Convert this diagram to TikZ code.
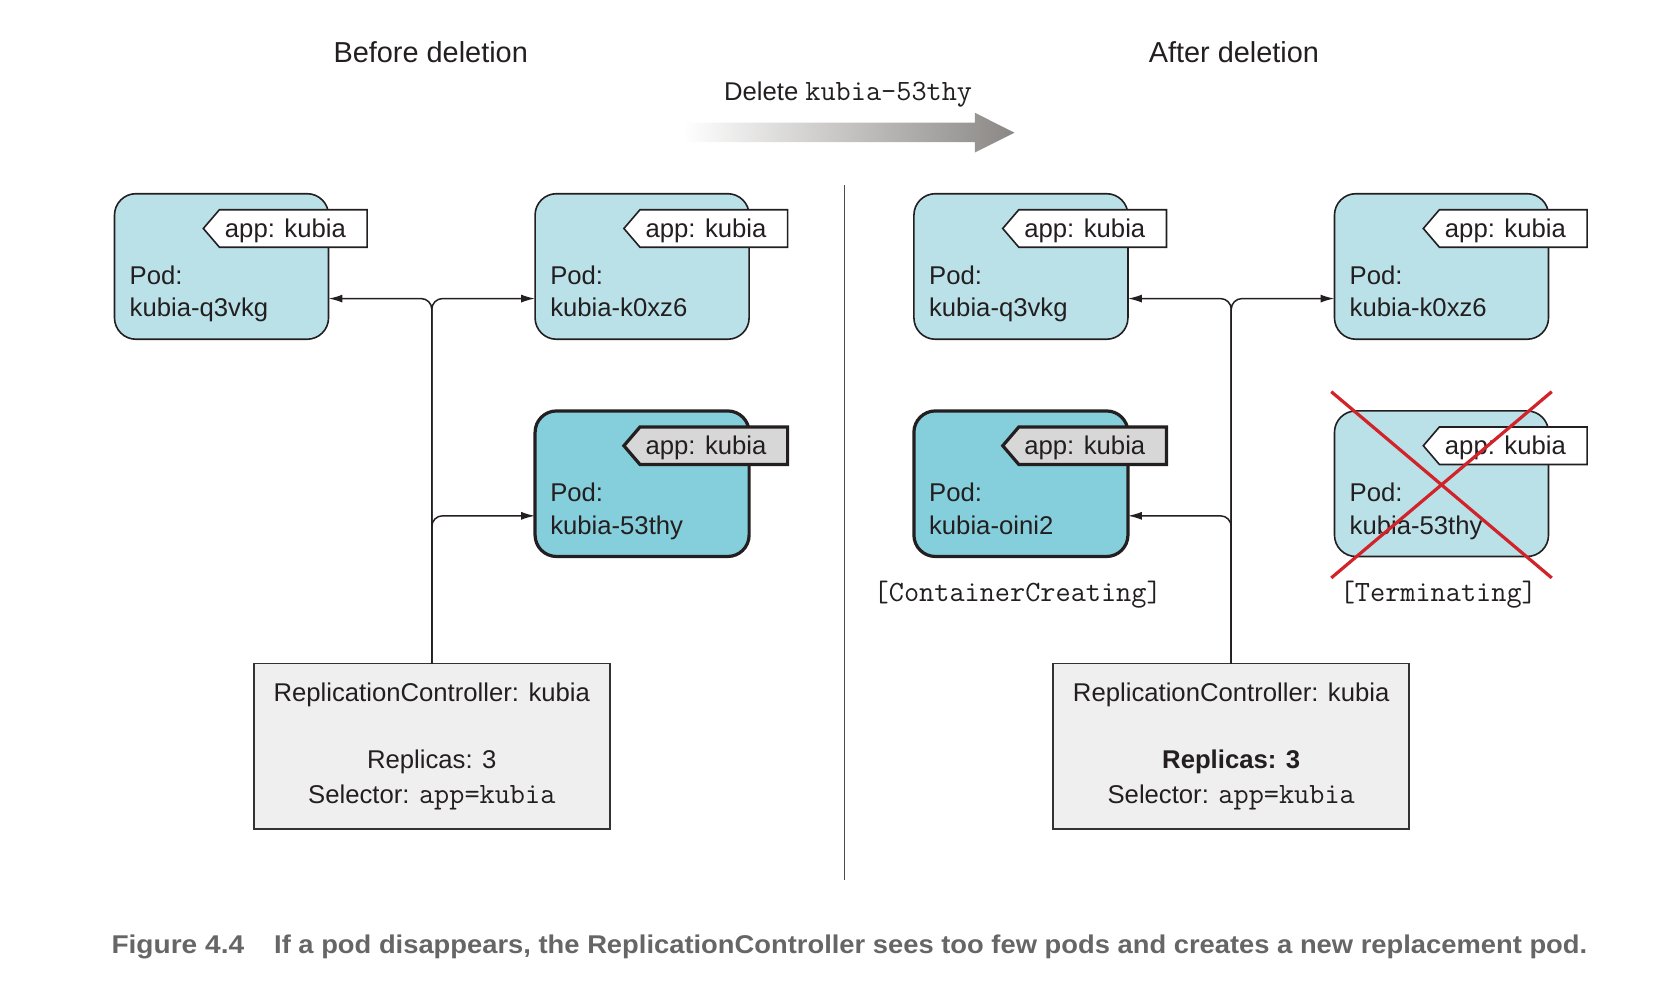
\documentclass[tikz,border=0pt]{standalone}
\usepackage{fontspec}
\setmainfont{Liberation Sans}
\usepackage{graphicx}
\usetikzlibrary{arrows.meta}
\definecolor{podL}{HTML}{B9E1E7}
\definecolor{podD}{HTML}{85CEDB}
\definecolor{tagG}{HTML}{D7D7D7}
\definecolor{rcF}{HTML}{EFEFEF}
\definecolor{xred}{HTML}{D2232A}
\definecolor{capG}{HTML}{666666}
\definecolor{arrG}{HTML}{8A8785}
\definecolor{ink}{HTML}{231F20}
\newcommand\monotxt[1]{{\fontsize{27.5}{30}\selectfont\ttfamily #1}}
\newcommand\podbox[6]{%
  \node[#4, anchor=north west] (#1) at (#2,#3) {};
  \draw[#5] (#2+83,#3+32.5) -- (#2+98,#3+15) -- (#2+236,#3+15) -- (#2+236,#3+50) -- (#2+98,#3+50) -- cycle;
  \node[txt, anchor=base west] (#1-tag) at (#2+103,#3+40.5) {app: kubia};
  \node[txt, anchor=base west] (#1-l1) at (#2+14,#3+84.5) {Pod:};
  \node[txt, anchor=base west] (#1-l2) at (#2+14,#3+115) {#6};
}
\begin{document}
\begin{tikzpicture}[x=1pt,y=-1pt,
  txt/.style={font=\fontsize{24}{29}\selectfont, inner sep=0pt, text=ink},
  headtxt/.style={font=\fontsize{27}{32}\selectfont, inner sep=0pt, text=ink},
  captxt/.style={font=\fontsize{24}{29}\selectfont\bfseries, inner sep=0pt, text=capG},
  podlight/.style={draw=ink, line width=1.5pt, fill=podL, rounded corners=20pt,
    minimum width=200pt, minimum height=136pt, inner sep=0pt, outer sep=0pt},
  poddark/.style={draw=ink, line width=3pt, fill=podD, rounded corners=20pt,
    minimum width=200pt, minimum height=136pt, inner sep=0pt, outer sep=0pt},
  taglight/.style={draw=ink, line width=1.5pt, fill=white, line join=miter},
  tagdark/.style={draw=ink, line width=3pt, fill=tagG, line join=miter},
  rcbox/.style={draw=black!80, line width=1.8pt, fill=rcF, minimum width=333pt,
    minimum height=155pt, inner sep=0pt, outer sep=0pt},
  conn/.style={draw=ink, line width=1.4pt, -{Latex[length=13pt,width=7.5pt]}},
  divider/.style={draw=black!70, line width=1.3pt},
  crossline/.style={draw=xred, line width=3pt}
]
\useasboundingbox (0,0) rectangle (1568,934.4);

% headings
\node[headtxt, anchor=base] (hbefore) at (402.5,58) {Before deletion};
\node[headtxt, anchor=base] (hafter) at (1153,58) {After deletion};
\node[txt, anchor=base] (dellabel) at (792.5,94) {Delete \monotxt{kubia-53thy}};

% gradient arrow
\shade[left color=white, right color=arrG]
  (638,114.6) -- (911,114.6) -- (911,105.4) -- (948,124) -- (911,142.5) -- (911,132.7) -- (638,132.7) -- cycle;

% divider
\draw[divider] (789,173) -- (789,822);

% left side
\node[rcbox] (rcL) at (403.5,697.5) {};
\node[txt, anchor=base] (rcL-t1) at (403.5,655.5) {ReplicationController: kubia};
\node[txt, anchor=base] (rcL-t2) at (403.5,718.5) {Replicas: 3};
\node[txt, anchor=base] (rcL-t3) at (403.5,750.5) {Selector: \monotxt{app=kubia}};

\podbox{p1}{107}{181}{podlight}{taglight}{kubia-q3vkg}
\podbox{p2}{500}{181}{podlight}{taglight}{kubia-k0xz6}
\podbox{p3}{500}{384}{poddark}{tagdark}{kubia-53thy}

\draw[conn] (rcL.north) [rounded corners=10pt] |- ([yshift=-30pt]p1.east);
\draw[conn] (rcL.north) [rounded corners=10pt] |- ([yshift=-30pt]p2.west);
\draw[conn] (rcL.north) [rounded corners=10pt] |- ([yshift=-30pt]p3.west);

% right side
\node[rcbox] (rcR) at (1150.5,697.5) {};
\node[txt, anchor=base] (rcR-t1) at (1150.5,655.5) {ReplicationController: kubia};
\node[txt, anchor=base] (rcR-t2) at (1150.5,718.5) {\bfseries Replicas: 3};
\node[txt, anchor=base] (rcR-t3) at (1150.5,750.5) {Selector: \monotxt{app=kubia}};

\podbox{p4}{854}{181}{podlight}{taglight}{kubia-q3vkg}
\podbox{p5}{1247}{181}{podlight}{taglight}{kubia-k0xz6}
\podbox{p6}{854}{384}{poddark}{tagdark}{kubia-oini2}
\podbox{p7}{1247}{384}{podlight}{taglight}{kubia-53thy}

\draw[conn] (rcR.north) [rounded corners=10pt] |- ([yshift=-30pt]p4.east);
\draw[conn] (rcR.north) [rounded corners=10pt] |- ([yshift=-30pt]p5.west);
\draw[conn] (rcR.north) [rounded corners=10pt] |- ([yshift=-30pt]p6.east);

\node[txt, anchor=base] (st1) at (951,562) {\monotxt{[ContainerCreating]}};
\node[txt, anchor=base] (st2) at (1344,562) {\monotxt{[Terminating]}};

% red cross
\draw[crossline] (1244,366) -- (1450,540);
\draw[crossline] (1450,366) -- (1244,540);

% caption
\node[captxt, anchor=base west] (capnum) at (104,891) {\resizebox{124pt}{\height}{Figure 4.4}};
\node[captxt, anchor=base west] (captext) at (256,891) {\resizebox{1227pt}{\height}{If a pod disappears, the ReplicationController sees too few pods and creates a new replacement pod.}};
\end{tikzpicture}
\end{document}
